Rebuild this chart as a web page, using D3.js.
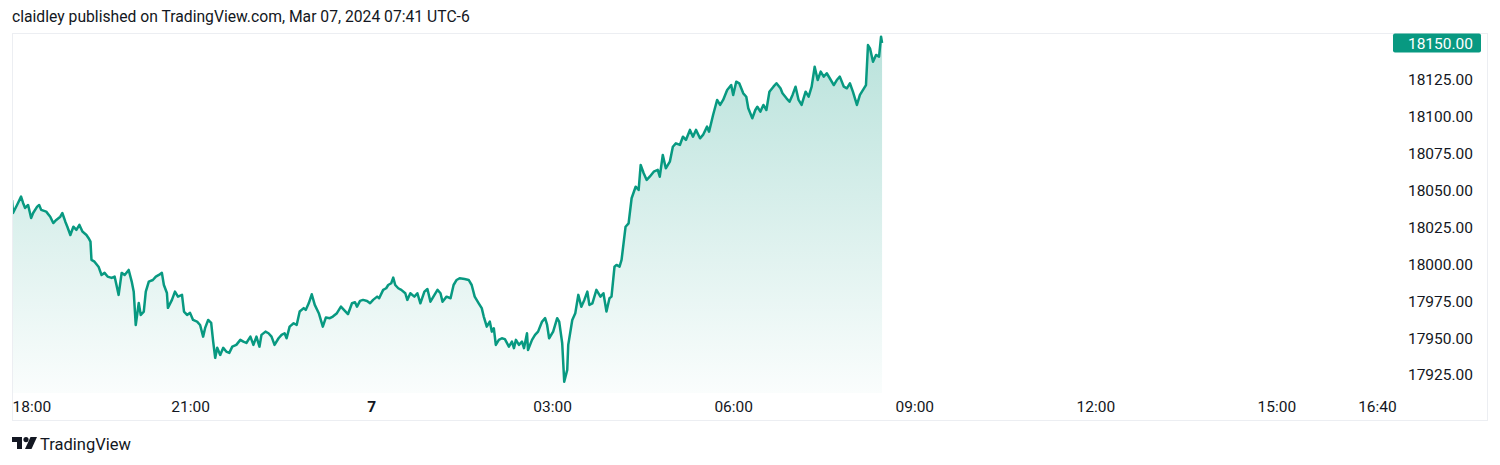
<!DOCTYPE html>
<html><head><meta charset="utf-8">
<script src="https://cdn.jsdelivr.net/npm/d3@7"></script>
<style>
body{margin:0;background:#fff}
svg{display:block}
text{font-family:Roboto,"Noto Sans",sans-serif}
</style>
</head><body>
<svg id="c" width="1500" height="465"></svg>
<script>
// ---------- data ----------
const headerText = "claidley published on TradingView.com, Mar 07, 2024 07:41 UTC-6";
const brandText = "TradingView";
const sessionStart = new Date(2024, 2, 6, 18, 0); // 18:00, Mar 6
// minutes since 18:00
const minutes = [
  3,4,8,12,14,16,19,22,24,28,
  30,32,37,41,44,47,51,53,56,58,
  61,64,67,70,73,77,79,81,82,85,
  89,92,95,98,102,105,109,112,115,119,
  122,124,126,129,131,134,136,139,143,146,
  149,152,154,157,158,162,165,168,172,174,
  177,180,183,187,190,193,195,198,201,203,
  205,207,210,213,216,219,222,226,230,233,
  236,240,243,246,249,251,255,258,261,264,
  268,271,274,276,279,283,286,289,293,295,
  298,301,304,308,312,315,319,322,326,330,
  333,337,341,344,346,349,352,356,359,362,
  366,368,372,375,377,380,382,384,387,390,
  394,396,399,403,406,409,413,416,419,423,
  426,429,431,435,439,442,445,448,453,457,
  460,463,467,470,472,475,478,480,482,484,
  487,490,493,497,500,502,504,507,510,512,
  515,516,520,523,526,530,533,535,537,541,
  545,547,550,552,555,556,560,563,566,569,
  572,575,577,580,584,588,591,594,597,599,
  602,604,607,609,613,616,619,623,626,628,
  631,634,637,641,645,647,650,653,657,660,
  663,667,670,673,677,680,683,687,690,694,
  696,700,704,707,710,714,718,720,723,726,
  730,733,735,739,742,744,747,750,753,756,
  760,763,767,769,773,776,779,782,785,788,
  792,795,798,801,804,807,810,813,816,820,
  823,826,830,833,836,839,843,846,850,852,
  854,856,859,862,865,867,868
];
const prices = [
  18043.6,18034.8,18040.2,18045.9,18041.6,18038.2,18040.2,18031.4,18034.8,18039.1,
  18040.2,18036.9,18035.7,18032.3,18028.0,18030.1,18032.3,18034.8,18028.9,18025.5,
  18019.9,18025.5,18023.3,18026.7,18022.2,18019.9,18017.9,18015.4,18003.0,18001.8,
  17998.4,17992.8,17994.2,17991.7,17990.8,17991.7,17979.3,17994.2,17992.8,17996.2,
  17988.3,17981.5,17958.9,17973.8,17965.7,17968.0,17981.5,17988.3,17989.4,17991.7,
  17992.8,17994.2,17986.0,17980.6,17970.5,17975.9,17981.5,17978.1,17979.3,17968.0,
  17965.7,17967.1,17962.3,17961.2,17958.9,17951.0,17956.9,17962.3,17960.3,17947.6,
  17936.6,17943.4,17938.6,17943.4,17940.9,17940.0,17944.2,17945.4,17948.8,17947.6,
  17946.7,17951.0,17945.4,17951.0,17944.2,17952.2,17954.4,17953.3,17951.0,17945.4,
  17949.9,17952.2,17953.3,17949.9,17957.8,17960.1,17958.9,17968.0,17970.3,17969.1,
  17973.6,17979.7,17972.5,17966.9,17957.8,17963.9,17963.5,17964.6,17966.9,17971.3,
  17969.1,17966.2,17973.6,17974.3,17971.3,17975.2,17975.9,17975.2,17973.6,17975.9,
  17978.1,17977.0,17982.7,17983.8,17986.0,17987.2,17991.0,17986.0,17983.8,17982.7,
  17980.4,17975.9,17980.4,17978.1,17980.4,17973.6,17981.5,17983.3,17974.7,17979.3,
  17982.7,17980.4,17974.7,17978.1,17977.0,17986.0,17989.4,17990.6,17990.1,17989.4,
  17986.0,17978.1,17973.6,17970.3,17964.6,17957.8,17961.2,17954.4,17956.7,17945.4,
  17948.8,17949.9,17949.3,17944.2,17947.6,17943.2,17948.8,17945.4,17947.6,17943.2,
  17953.3,17942.0,17948.8,17952.2,17954.4,17961.2,17963.5,17958.9,17949.9,17954.4,
  17963.5,17961.2,17946.5,17920.5,17928.5,17945.4,17962.3,17966.9,17979.3,17971.3,
  17975.9,17981.5,17972.5,17973.6,17982.7,17978.1,17980.4,17968.0,17977.0,17978.1,
  17998.4,17999.6,17998.4,18003.0,18025.5,18027.8,18044.8,18052.6,18050.4,18067.3,
  18061.7,18057.2,18059.4,18062.8,18064.0,18059.4,18074.1,18065.1,18069.6,18079.7,
  18082.0,18080.9,18086.5,18084.3,18091.1,18086.5,18091.1,18085.4,18087.7,18093.3,
  18089.9,18101.2,18111.4,18108.0,18111.4,18118.2,18121.5,18114.8,18123.8,18122.7,
  18115.9,18113.6,18105.8,18099.0,18104.6,18106.8,18103.5,18108.0,18104.6,18117.0,
  18120.4,18122.7,18119.3,18115.9,18112.5,18110.2,18114.8,18120.4,18111.4,18108.0,
  18117.0,18113.6,18120.4,18133.9,18124.9,18130.6,18127.2,18129.5,18126.1,18121.5,
  18124.9,18127.2,18120.4,18119.3,18122.7,18117.0,18108.0,18114.8,18119.3,18121.5,
  18148.6,18146.4,18137.3,18141.9,18140.7,18154.3,18150.0
];
const priceTicks = [17925,17950,17975,18000,18025,18050,18075,18100,18125,18150];
const timeTickLabels = ["18:00","21:00","7","03:00","06:00","09:00","12:00","15:00","16:40"];
const timeTickMinutes = [0,180,360,540,720,900,1080,1260,1360];
const domainEndMinutes = 1371;

// ---------- layout ----------
const frame = {l:12, t:33, r:1488, b:421};
const plot = {l:12, t:34, r:1388, b:393};
const green = "#089981", ink = "#131722";
const axisFont = 15.5;

const svg = d3.select("#c");
const toDate = m => d3.timeMinute.offset(sessionStart, m);
const data = minutes.map((m,i)=>({t:toDate(m), p:prices[i]}));

const x = d3.scaleTime().domain([sessionStart, toDate(domainEndMinutes)]).range([9, plot.r]);
const y = d3.scaleLinear().domain([17925, 18150]).range([375, 43]);

// header
svg.append("text").attr("x",12).attr("y",22).attr("font-size",15.7).attr("fill",ink).text(headerText);

// frame
svg.append("rect").attr("x",frame.l+0.5).attr("y",frame.t+0.5)
  .attr("width",frame.r-frame.l-1).attr("height",frame.b-frame.t-1)
  .attr("fill","none").attr("stroke","#eceef2");

// gradient
const defs = svg.append("defs");
const g = defs.append("linearGradient").attr("id","ag").attr("gradientUnits","userSpaceOnUse")
  .attr("x1",0).attr("x2",0).attr("y1",y(18150)).attr("y2",plot.b);
g.append("stop").attr("offset",0).attr("stop-color",green).attr("stop-opacity",0.28);
g.append("stop").attr("offset",1).attr("stop-color",green).attr("stop-opacity",0.02);
defs.append("clipPath").attr("id","pc").append("rect")
  .attr("x",plot.l+1).attr("y",plot.t).attr("width",plot.r-plot.l-1).attr("height",plot.b-plot.t);

const pg = svg.append("g").attr("clip-path","url(#pc)");
pg.append("path").datum(data).attr("fill","url(#ag)")
  .attr("d", d3.area().x(d=>x(d.t)).y0(plot.b).y1(d=>y(d.p)));
pg.append("path").datum(data).attr("fill","none").attr("stroke",green).attr("stroke-width",2.5)
  .attr("stroke-linejoin","round")
  .attr("d", d3.line().x(d=>x(d.t)).y(d=>y(d.p)));

// y axis
const ya = svg.append("g").attr("transform","translate(1473,0)")
  .call(d3.axisRight(y).tickValues(priceTicks).tickSize(0).tickPadding(0).tickFormat(d3.format(".2f")));
ya.select(".domain").remove();
ya.selectAll("text").attr("text-anchor","end").attr("font-size",axisFont).attr("fill",ink)
  .attr("font-family","Roboto,'Noto Sans',sans-serif");

// x axis
const tickDates = timeTickMinutes.map(toDate);
const xa = svg.append("g").attr("transform",`translate(0,${plot.b})`)
  .call(d3.axisBottom(x).tickValues(tickDates).tickSize(0).tickFormat((d,i)=>timeTickLabels[i]));
xa.select(".domain").remove();
xa.selectAll("text").attr("font-size",axisFont).attr("fill",ink).attr("y",18.5).attr("dy",0)
  .attr("font-family","Roboto,'Noto Sans',sans-serif")
  .attr("font-weight",(d,i)=>timeTickLabels[i]==="7"?"bold":"normal");
xa.selectAll("text").filter((d,i)=>i===0).attr("text-anchor","start").attr("x", plot.l - x(tickDates[0]));

// last price label
const last = prices[prices.length-1];
svg.append("rect").attr("x",1393).attr("y",y(last)-9.5).attr("width",88).attr("height",19)
  .attr("rx",2).attr("fill",green);
svg.append("text").attr("x",1473).attr("y",y(last)+5.5).attr("text-anchor","end")
  .attr("font-size",axisFont).attr("fill","#fff").text(d3.format(".2f")(last));

// brand logo
const lg = svg.append("g").attr("transform","translate(12,437)").attr("fill",ink);
lg.append("path").attr("d","M0 0H10V12H5V5H0Z");
lg.append("circle").attr("cx",14).attr("cy",2.6).attr("r",2.6);
lg.append("path").attr("d","M18.5 0H25L19.5 12H13Z");
svg.append("text").attr("x",40).attr("y",449.5).attr("font-size",16.5).attr("fill",ink).text(brandText);
</script>
</body></html>
